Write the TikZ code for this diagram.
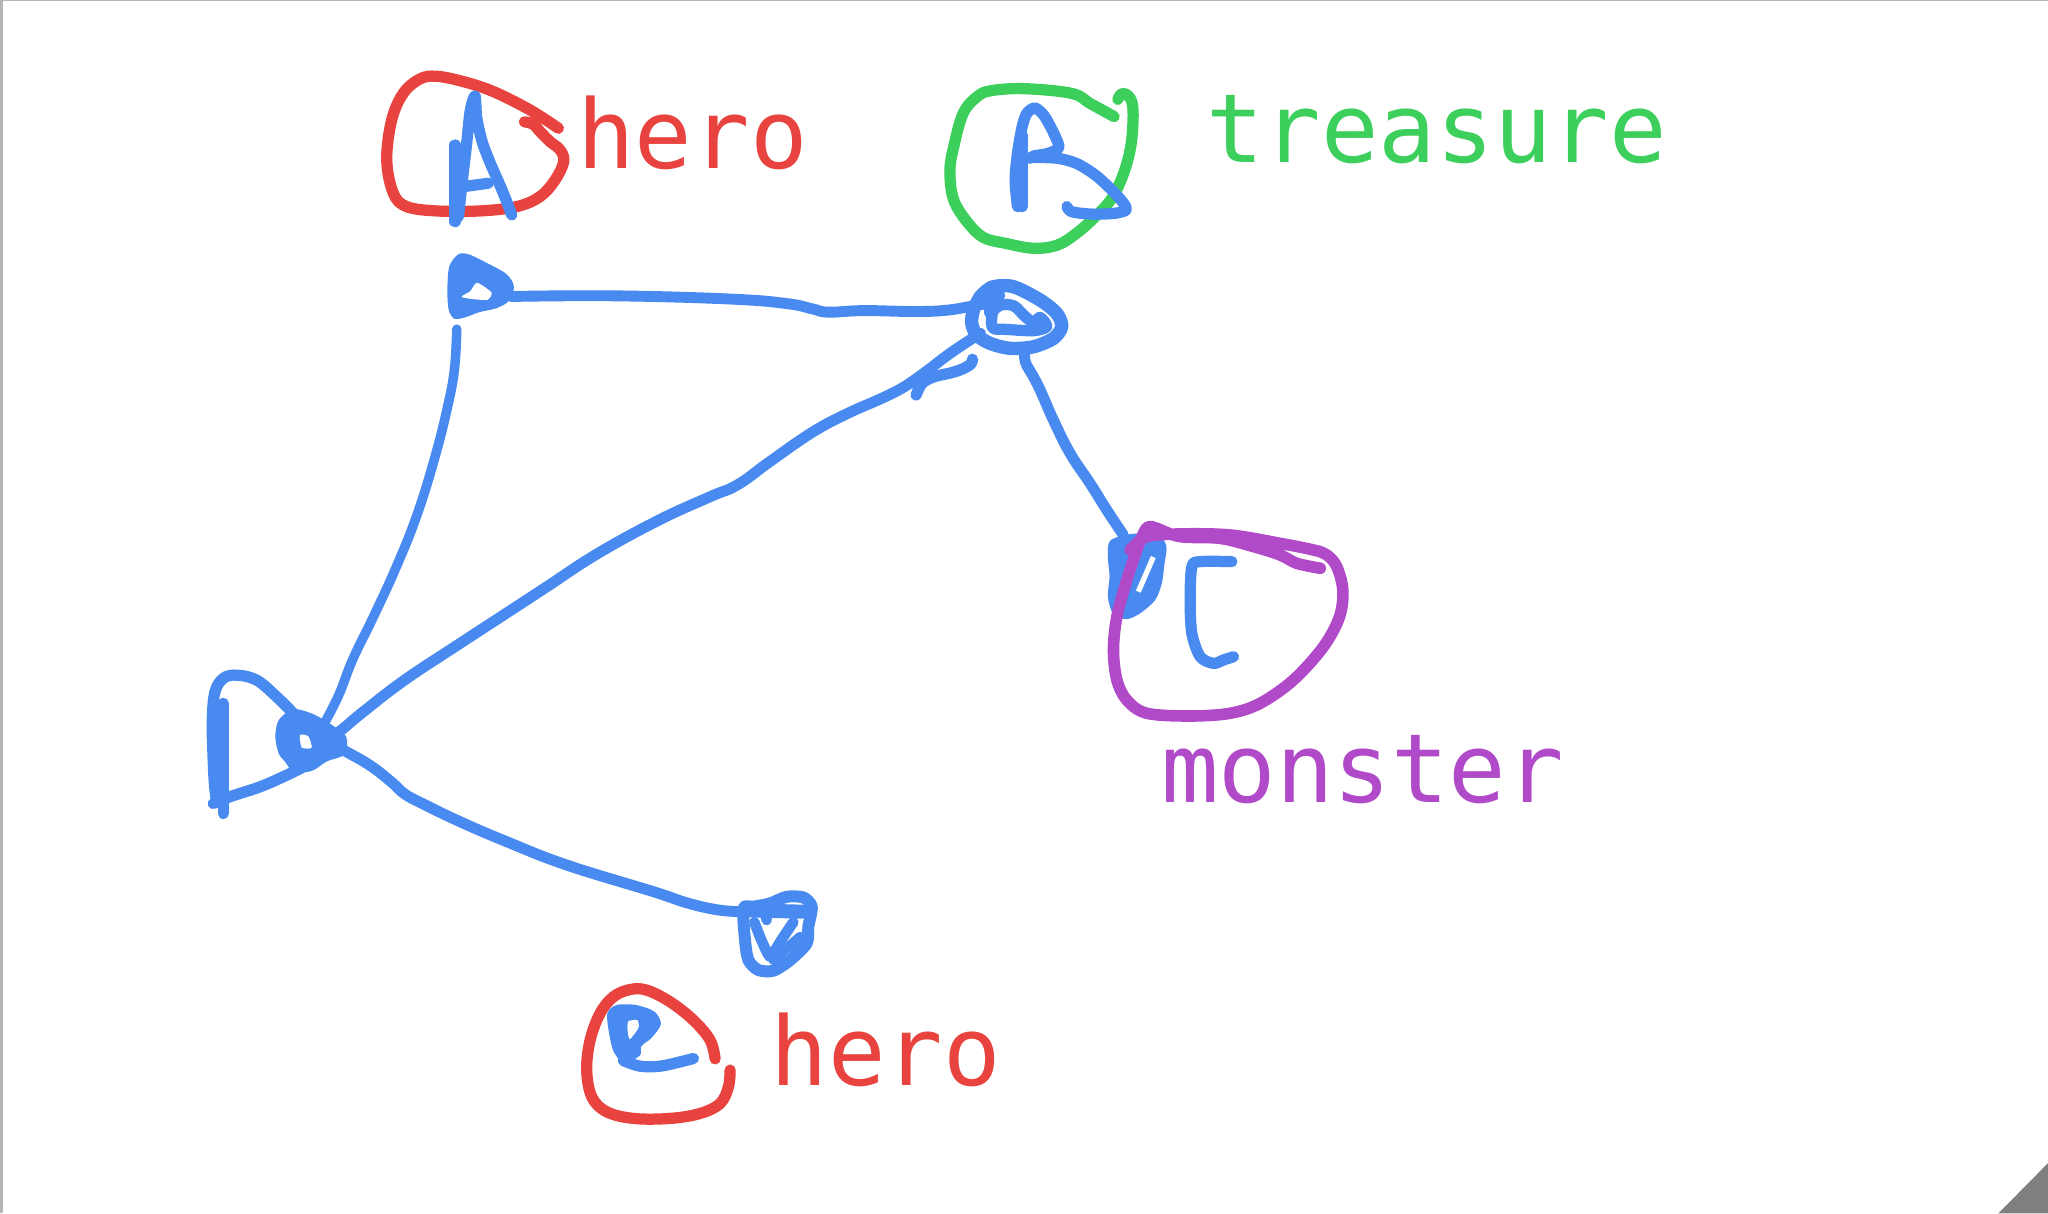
\documentclass[tikz,border=0pt]{standalone}
\usepackage{fontspec}
\newfontfamily\sketchfont{DejaVu Sans Mono}
\definecolor{sblue}{HTML}{488AF0}
\definecolor{sred}{HTML}{E8433E}
\definecolor{sgreen}{HTML}{3CCF5C}
\definecolor{spurple}{HTML}{B14AC8}
\definecolor{framegray}{HTML}{B5B5B5}
\definecolor{cornergray}{HTML}{7F7F7F}
\tikzset{
  pen/.style={line width=3.2pt, line cap=round, line join=round},
  bpen/.style={pen, draw=sblue},
  rpen/.style={pen, draw=sred},
  gpen/.style={pen, draw=sgreen},
  ppen/.style={pen, draw=spurple},
  edgepen/.style={pen, draw=sblue, line width=3.1pt},
  label/.style={font=\sketchfont\fontsize{27.2pt}{30pt}\selectfont, inner sep=0pt, anchor=base west},
}
\begin{document}
\begin{tikzpicture}[x=0.01306cm, y=-0.01306cm]
\useasboundingbox (0,0) rectangle (1568,929);
\fill[white] (0,0) rectangle (1568,929);
\fill[framegray] (0,0) rectangle (1568,1.1);
\fill[framegray] (0,0) rectangle (2.3,929);
\fill[cornergray] (1568,890.5) -- (1568,929) -- (1530,929) -- cycle;

% ---------- node positions ----------
\coordinate (nTL) at (367,220);
\coordinate (nTR) at (778,243);
\coordinate (nL) at (238,568);
\coordinate (nM) at (870,440);
\coordinate (nB) at (595,715);

% ---------- edges ----------
% top-left -> top-right
\draw[edgepen] plot[smooth, tension=0.7] coordinates {(391,227) (470,226.5) (560,229) (602.8,232.5) (622,236.5) (634.1,239) (661.4,237.8) (700,238.5) (725,237.5) (747.4,233.8) (765,231)};
% top-left -> left
\draw[edgepen, line width=2.7pt] plot[smooth, tension=0.7] coordinates {(349.7,252) (348,282) (343,310) (333,350) (319,395) (303,435) (286,472) (270,505) (259,533) (246,558)};
% left -> top-right (diagonal)
\draw[edgepen] plot[smooth, tension=0.7] coordinates {(252,566) (262.5,558) (278.1,545) (309.3,521) (348.4,495.1) (387.5,469.6) (418.7,449.2) (457.8,423.7) (504.7,398.1) (543.7,380.3) (565,371) (590,353) (621.9,331) (648,317) (675,305) (690,297.5) (700,291) (711,283) (724,273) (737,264) (750.8,255.2)};
% hook on diagonal
\draw[bpen] plot[smooth, tension=0.6] coordinates {(701.4,302.5) (706,293.5) (715.4,288.4) (728,285.5) (737.3,282.3) (743.5,278.5) (744.5,275)};
% top-right -> monster
\draw[edgepen] plot[smooth, tension=0.7] coordinates {(784.8,266.7) (785,277) (791.2,288.4) (797,300) (806.5,321.6) (819.3,347.1) (834.6,370.1) (847.4,390.5) (860.1,409.7)};
% left -> bottom node
\draw[edgepen] plot[smooth, tension=0.7] coordinates {(252,568) (262.9,574.3) (283.3,586) (300,599) (310,608) (325,616) (352.2,629.1) (387.9,644.4) (433.9,662.3) (500.3,682.7) (525.8,691.2) (548.7,696.5) (566.6,698)};

% ---------- top-left node ----------
\fill[sblue] plot[smooth cycle, tension=0.5] coordinates {(343.5,237) (342.5,222) (344,204) (350.8,194.8) (359.1,194.8) (375,202.5) (388,210) (393.5,219.5) (389.5,230.5) (380,236) (367,239) (356,243) (347.8,244)};
\fill[white] plot[smooth cycle, tension=0.4] coordinates {(365.3,216.5) (376.3,224) (373.2,229.5) (362,229) (353.4,227.2) (360,223)};

% ---------- top-right node ----------
\draw[bpen, line width=3.8pt] plot[smooth cycle, tension=0.5] coordinates {(752.9,224.6) (760.6,219.5) (775.9,219.5) (796.3,229.7) (809.1,240) (812.9,250.1) (806.5,259.1) (791.2,265.5) (773.3,266.7) (758,262.9) (747.8,256.5) (744,247.6) (745.3,237.4) (750.4,227.2)};
\draw[bpen, line width=3.2pt] plot[smooth cycle, tension=0.5] coordinates {(760,251) (760,239) (766.5,233.5) (776.4,234.3) (785,242.5) (791.5,246.8) (796.3,243) (801.4,250.1) (791.2,253.2) (770.8,252.2)};
\draw[bpen, line width=2.6pt] plot[smooth, tension=0.5] coordinates {(757,240) (757,230) (762,225) (766,226) (762,233)};

% ---------- left node ----------
\draw[bpen] (171,538.6) -- (171,622.8);
\draw[bpen] plot[smooth, tension=0.6] coordinates {(224.6,546.2) (211.8,533.5) (196.5,520.7) (181.2,516.9) (171,519.4) (164.5,530) (162.5,552) (163,576) (164,598) (165.5,612)};
\draw[bpen] plot[smooth, tension=0.6] coordinates {(163.3,615.2) (176.1,610) (199.1,602.4) (216.9,594.7) (232.2,587.1) (242,580)};
\fill[sblue] plot[smooth cycle, tension=0.5] coordinates {(213.4,551.3) (224.6,543) (239.9,546.8) (255.2,555.7) (265.1,564.1) (263.9,577.5) (250.1,583) (238.6,590.3) (224.6,590.8) (218.5,583.5) (213.4,577) (210.8,564.1)};
\fill[white] plot[smooth cycle, tension=0.4] coordinates {(229.7,562.8) (236.1,563.8) (238.6,572.5) (231,572.3)};

% ---------- bottom node ----------
\draw[bpen, line width=3.4pt] plot[smooth cycle, tension=0.45] coordinates {(569.2,695.5) (570.4,719.7) (573,735.1) (580.6,742.7) (592.1,743.2) (604.9,735.1) (617.6,722.3) (618.9,709.5) (621.5,694.2) (615.1,687.1) (602.3,686.6) (589.6,691.7) (576.8,694.2)};
\draw[bpen, line width=4pt] (573,697) -- (614,698);
\draw[bpen, line width=3pt] plot[smooth, tension=0.3] coordinates {(577.5,706) (583,720) (589.6,732.5) (598,720) (607.4,706)};
\draw[bpen, line width=2.8pt] (612.5,717.2) -- (592.1,735.1);
\draw[bpen, line width=3pt] (586,700) -- (587,704.4);

% ---------- top hero ----------
\draw[rpen] plot[smooth, tension=0.6] coordinates {(427.5,98.2) (405.8,84.2) (377.7,70.1) (354.8,62.5) (334.3,58.4) (321.6,60.4) (308.8,71.4) (299.9,91.8) (296.1,122.5) (301.2,148) (311.4,158.2) (334.3,161.5) (367.5,161.5) (395.6,158.2) (413.5,150.5) (425,137.8) (431.6,123.7) (428.8,114.8) (421.1,108.4) (413.5,100.8) (408.4,95.2) (401.5,93.3)};
\draw[bpen] (348.4,111) -- (348.4,169.7);
\draw[bpen] plot[smooth, tension=0.5] coordinates {(351,165.9) (354,138) (357.3,109.7) (360,85) (363.7,73.5) (365,90) (369,108) (375,124) (382,140) (387,152) (391.8,164.6)};
\draw[bpen] (354.8,142.9) -- (373.9,140.3);
\node[label, text=sred] (herotop) at (441.5,128.9) {hero};

% ---------- treasure ----------
\draw[gpen] plot[smooth, tension=0.6] coordinates {(853,89.3) (835,79.4) (820.5,71.5) (784.4,67.9) (759.1,69.4) (748.2,74) (737.4,86.8) (730.2,112.3) (727.3,130.2) (729.4,150.6) (737.4,165.9) (751.9,181.2) (769.9,186.3) (791.6,190.1) (809.7,187.6) (824.1,178.7) (838.6,165.9) (851.2,151.9) (860.3,132.7) (865.7,112.3) (867.5,91.9) (866.8,79.1) (863.2,72.7) (858.5,72) (855.9,76.1)};
\draw[bpen] (782.6,103.4) -- (782.6,158.2);
\draw[bpen] plot[smooth, tension=0.5] coordinates {(779,158.2) (777.2,137.8) (779,117.4) (782.6,97) (786.2,86.8) (792.3,82.7) (798.8,87.8) (804.3,97) (809.7,108.5) (810.4,113.6) (802.5,117.4) (791.6,119.4) (788.7,121.2)};
\draw[bpen] plot[smooth, tension=0.5] coordinates {(791,120.5) (809.7,121.2) (824.1,125.1) (838.6,134) (851.2,145.5) (860.3,155.7) (862.1,160.8) (853,163.4) (835,163.9) (820.5,162.1) (816.9,158.2)};
\node[label, text=sgreen] (treasure) at (923,124.5) {treasure};

% ---------- monster ----------
\fill[sblue] plot[smooth cycle, tension=0.5] coordinates {(850,414) (865.3,408.9) (886,409.5) (893,418) (891.5,432) (889.5,446.6) (884.4,459.4) (872.9,469.6) (862.7,474) (852.5,470.6) (848.2,456.8) (849.5,441.5) (848.2,426.2)};
\draw[white, line width=1.5pt] (871.5,453) -- (883,426.5);
\draw[bpen] plot[smooth, tension=0.5] coordinates {(943.1,430) (918.9,430) (912.5,433.9) (911.2,459.4) (912.5,484.9) (918.9,502.8) (929.1,507.9) (936.7,505.3) (944.4,502.8)};
\draw[ppen, line width=3.3pt] plot[smooth, tension=0.55] coordinates {(1010.8,435.1) (992.9,431.3) (980.1,424.9) (959.7,418.5) (934.2,412.2) (903.6,410.9) (885.7,404.5) (879.3,403.2) (875.5,408.3) (870.4,421.1) (862.7,444.1) (855.1,472.1) (852.5,497.7) (855.1,520.6) (862.7,536) (878,546.1) (911.2,548.2) (941.9,546.1) (964.8,538.5) (990.3,520.6) (1013.3,495.1) (1025.6,472.1) (1028.1,451.7) (1023.5,433.9) (1015.9,424.9) (1005.7,421.1) (980.1,416) (941.9,409.6) (903.6,408.8) (878,410.9) (867.8,418.5) (865.3,421.1)};
\node[label, text=spurple] (monster) at (888.5,614.5) {monster};

% ---------- bottom hero ----------
\draw[rpen] plot[smooth, tension=0.6] coordinates {(547.5,810.7) (543.7,796.4) (530.9,781.1) (513,767) (495.2,758.1) (482.4,757.6) (469.6,763.2) (459.4,775.9) (451.8,796.4) (449.2,819.3) (453.1,839.8) (464.5,851.2) (485,856.3) (513,856.3) (536,852.5) (551.3,844.9) (557.7,832.1) (559,819.3)};
\fill[sblue] plot[smooth cycle, tension=0.5] coordinates {(465,776) (472,769.5) (487,769.5) (501,774.5) (506,784) (499,794.5) (491,801) (490,808) (478,814) (470,805.5) (466.5,792)};
\fill[white] plot[smooth cycle, tension=0.4] coordinates {(481,782) (488,781) (489,786.5) (485,792.5) (482,795.5) (480.5,789)};
\draw[bpen] plot[smooth, tension=0.6] coordinates {(477.3,812) (490.1,816.3) (505.4,816.3) (520.7,813) (530.9,810.4)};
\node[label, text=sred] (herobottom) at (589.5,830.8) {hero};
\end{tikzpicture}
\end{document}
